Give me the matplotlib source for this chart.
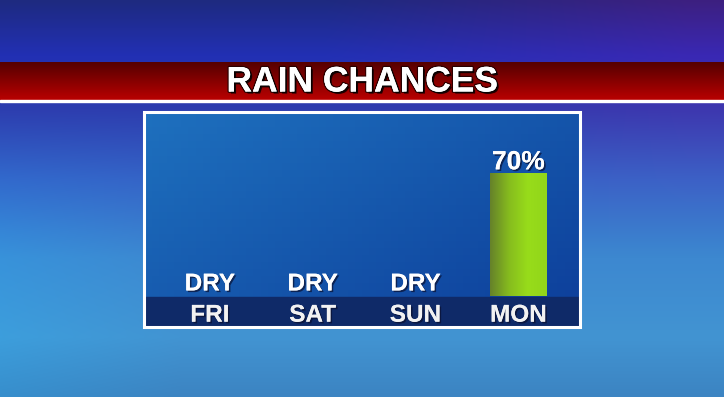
import numpy as np
import matplotlib.pyplot as plt
import matplotlib.patheffects as pe
from matplotlib.colors import to_rgb, LinearSegmentedColormap
from matplotlib.patches import Rectangle

# DATOS
titulo = "RAIN CHANCES"
dias = ["FRI", "SAT", "SUN", "MON"]
lluvia = [0, 0, 0, 70]          # probabilidad de lluvia, %
etiquetas = ["DRY", "DRY", "DRY", "70%"]

W, H = 724, 397
fig = plt.figure(figsize=(W / 100, H / 100), dpi=100)
plt.rcParams['font.family'] = ['Liberation Sans', 'DejaVu Sans']

sombra = [pe.withSimplePatchShadow(offset=(1.2, -1.2), shadow_rgbFace='#0a1030', alpha=0.7),
          pe.Normal()]


def gradiente(stops, n):
    """ Interpola una lista de (pos, color) en n pasos. """
    pos = np.array([s[0] for s in stops], dtype=float)
    cols = np.array([to_rgb(s[1]) for s in stops])
    t = np.linspace(0, 1, n)
    return np.stack([np.interp(t, pos, cols[:, c]) for c in range(3)], axis=-1)


# FONDO
bg = fig.add_axes([0, 0, 1, 1])
bg.set_axis_off()
vert = gradiente([(0.0, '#1e2a80'), (0.14, '#2230b4'), (0.27, '#2d3cae'),
                  (0.45, '#3563c6'), (0.65, '#3d88d0'), (0.85, '#4294d2'),
                  (1.0, '#3c84c2')], H)
img = np.repeat(vert[:, None, :], W, axis=1)
xx = np.linspace(0, 1, W)
yy = np.linspace(0, 1, H)
tinte = np.clip((xx - 0.45) * 2, 0, 1)[None, :] * np.clip(1 - yy / 0.6, 0, 1)[:, None]
img = img + tinte[..., None] * np.array([0.12, -0.04, 0.0])
lado = np.clip(1 - xx * 4, 0, 1)[None, :] * np.clip((yy - 0.25) * 3, 0, 1)[:, None]
img = img + lado[..., None] * np.array([-0.02, 0.04, 0.04])
bg.imshow(np.clip(img, 0, 1), extent=(0, W, H, 0), aspect='auto', zorder=0)

# Banda roja del título
roja = gradiente([(0, '#560000'), (1, '#b80000')], 40)
bg.imshow(np.repeat(roja[:, None, :], 2, axis=1), extent=(0, W, 100, 62),
          aspect='auto', zorder=1)
bg.add_patch(Rectangle((0, 99.5), W, 2.2, color='white', zorder=2))
bg.text(W / 2, 82, titulo, color='white', fontsize=25.5, fontweight='bold',
        ha='center', va='center', zorder=3,
        path_effects=[pe.withStroke(linewidth=2, foreground='#2a0000'),
                      pe.withSimplePatchShadow(offset=(1.5, -1.5), shadow_rgbFace='black', alpha=0.8),
                      pe.Normal()])

# Panel
gx = np.linspace(0, 1, 60)
gy = np.linspace(0, 1, 30)
mezcla = np.clip(0.55 * gx[None, :] + 0.45 * gy[:, None], 0, 1)
c0, c1 = np.array(to_rgb('#1e70be')), np.array(to_rgb('#0d3e9a'))
panel = c0 + (c1 - c0) * mezcla[..., None]
bg.imshow(panel, extent=(145, 579, 326, 113), aspect='auto', zorder=2)
bg.add_patch(Rectangle((145, 297), 434, 29, color='#0f2a68', zorder=3))
bg.add_patch(Rectangle((144, 112), 436, 215, fill=False, edgecolor='white',
                       linewidth=2.2, zorder=4))
bg.set_xlim(0, W)
bg.set_ylim(H, 0)

# GRÁFICA
ax = fig.add_axes([145 / W, 1 - 296 / H, 434 / W, 176 / H])
ax.patch.set_alpha(0)
for s in ax.spines.values():
    s.set_visible(False)

x = np.arange(len(dias))
barras = ax.bar(x, lluvia, width=0.55, color='#8ccf1c', zorder=2)

verde = LinearSegmentedColormap.from_list(
    'verde', ['#66822a', '#86bc1e', '#98dc1a', '#92d61a'])
for b in barras:
    if b.get_height() > 0:
        im = ax.imshow(np.linspace(0, 1, 64)[None, :], cmap=verde, aspect='auto',
                       extent=(b.get_x(), b.get_x() + b.get_width(), 0, b.get_height()),
                       zorder=3)
        im.set_clip_path(b)

for xi, v, et in zip(x, lluvia, etiquetas):
    ax.annotate(et, (xi, v), xytext=(0, 4 if v == 0 else 2.5),
                textcoords='offset points', ha='center', va='baseline',
                color='white', fontsize=17.5 if v == 0 else 19,
                fontweight='bold', zorder=4, path_effects=sombra)

ax.set_xlim(-0.63, 3.59)
ax.set_ylim(0, 100)
ax.set_yticks([])
ax.set_xticks(x, dias)
ax.tick_params(axis='x', length=0, pad=5.5, labelsize=17.5, labelcolor='#f2f2f2')
for t in ax.get_xticklabels():
    t.set_fontweight('bold')
    t.set_path_effects(sombra)

fig.savefig('out.png', dpi=100)
